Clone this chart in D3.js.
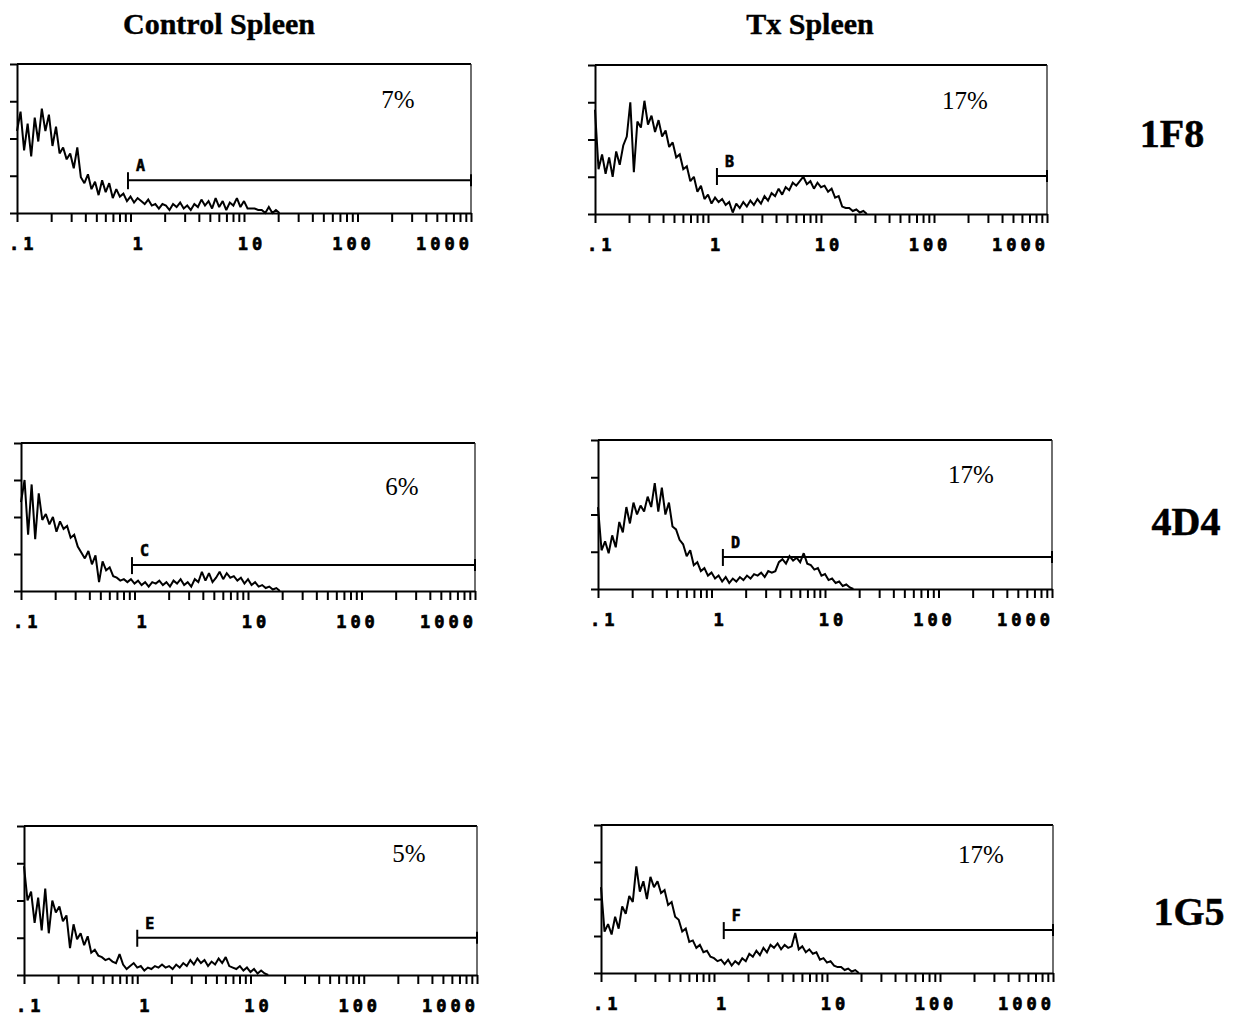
<!DOCTYPE html>
<html>
<head>
<meta charset="utf-8">
<script src="https://cdn.jsdelivr.net/npm/d3@7"></script>
<style>
  html, body { margin: 0; padding: 0; background: #fff; }
  svg { display: block; }
</style>
</head>
<body>
<svg id="chart" width="1245" height="1017"></svg>
<script>
// ---------------- DATA ----------------
const columnTitles = ["Control Spleen", "Tx Spleen"];
const rowLabels = ["1F8", "4D4", "1G5"];
const tickLabels = [".1", "1", "10", "100", "1000"];
const tickLabelValues = [0.1, 1, 10, 100, 1000];
const binsPerDecade = 32;           // histogram channels per decade, starting at 0.1
const percents = ["7%", "17%", "6%", "17%", "5%", "17%"];
const gateLetters = ["A", "B", "C", "D", "E", "F"];
const gateStart = [0.95, 1.2, 0.95, 1.26, 1.0, 1.22];
const gateLevel = [22, 25.5, 17.5, 21.5, 25, 29];

const controlF8 = [55,68,42,60,38,64,48,70,55,66,45,58,40,44,36,40,30,44,24,20,26,16,21,12,22,14,20,10,16,11,13,8,11,7,10,8,6,9,5,6,3,6,5,2,6,4,7,3,5,2,6,4,9,5,8,3,10,4,8,2,7,5,10,4,8,3,3,3,2,2,0,4,0,2,0];
const txF8 = [70,30,40,27,38,25,42,33,46,52,75,28,62,58,76,60,66,55,63,52,56,45,48,38,40,30,32,22,25,15,19,10,13,7,11,8,10,6,8,1,7,4,8,5,9,6,10,7,12,9,14,12,17,13,18,16,21,19,22,25,20,22,17,21,18,19,15,17,11,12,5,4,4,2,3,1,2,0];
const controlD4 = [60,75,38,72,35,66,48,52,45,50,40,47,42,44,36,38,30,26,22,27,18,24,6,20,14,16,10,9,7,8,6,8,5,7,4,6,3,6,5,7,4,6,3,7,5,8,4,6,3,8,6,13,7,12,6,9,13,8,12,9,10,7,9,5,8,4,6,3,4,2,3,1,2,0];
const txD4 = [55,26,32,24,36,28,45,38,55,44,58,50,56,52,62,55,71,52,68,50,58,42,40,33,30,22,26,16,18,12,14,9,11,7,9,5,8,4,7,5,8,6,9,7,10,9,11,8,12,11,12,18,20,17,22,19,21,18,24,17,16,13,14,9,10,6,7,4,5,2,3,1,0];
const controlG5 = [73,50,56,35,52,30,58,28,50,42,46,36,40,18,34,24,28,20,26,15,17,13,12,10,11,9,8,14,7,4,6,8,5,6,3,5,4,6,5,7,5,6,4,7,5,8,6,10,7,11,8,10,6,9,7,11,8,12,6,5,4,6,3,5,2,4,1,3,1,0];
const txG5 = [58,28,33,26,38,30,45,40,52,48,72,55,62,50,65,58,62,54,56,46,48,38,36,28,30,21,22,17,19,14,15,11,10,8,9,6,9,5,8,6,10,8,13,11,15,12,17,14,19,17,20,16,19,17,18,27,16,18,14,16,13,14,9,10,7,8,5,4,4,2,3,1,2,0];

const histograms = [controlF8, txF8, controlD4, txD4, controlG5, txG5];

// ---------------- LAYOUT ----------------
const panels = [
  {x0: 17,  x1: 471,  y0: 64,  y1: 213, px: 398, py: 108},
  {x0: 595, x1: 1047, y0: 65,  y1: 214, px: 965, py: 109},
  {x0: 21,  x1: 475,  y0: 443, y1: 591, px: 402, py: 495},
  {x0: 598, x1: 1052, y0: 440, y1: 589, px: 971, py: 483},
  {x0: 24,  x1: 477,  y0: 826, y1: 975, px: 409, py: 862},
  {x0: 601, x1: 1053, y0: 825, y1: 973, px: 981, py: 863}
];
const titlePos = [{x: 219, y: 34}, {x: 810, y: 34}];
const rowPos = [{x: 1172, y: 147}, {x: 1186, y: 535}, {x: 1189, y: 925}];

const svg = d3.select("#chart");
svg.append("rect").attr("width", 1245).attr("height", 1017).attr("fill", "#fff");

columnTitles.forEach((t, i) => {
  svg.append("text")
    .attr("x", titlePos[i].x).attr("y", titlePos[i].y)
    .attr("text-anchor", "middle")
    .style("font-family", "'Liberation Serif', 'Times New Roman', serif")
    .style("font-weight", "bold")
    .style("font-size", "30px")
    .attr("stroke", "#000").attr("stroke-width", 0.4)
    .text(t);
});
rowLabels.forEach((t, i) => {
  svg.append("text")
    .attr("x", rowPos[i].x).attr("y", rowPos[i].y)
    .attr("text-anchor", "middle")
    .style("font-family", "'Liberation Serif', 'Times New Roman', serif")
    .style("font-weight", "bold")
    .style("font-size", "40px")
    .attr("stroke", "#000").attr("stroke-width", 0.5)
    .text(t);
});

// minor/major log ticks 0.1 .. 1000
const logTicks = [];
[0.1, 1, 10, 100].forEach(d => { for (let k = 1; k < 10; k++) logTicks.push(d * k); });
logTicks.push(1000);

panels.forEach((p, i) => {
  const g = svg.append("g");
  const x = d3.scaleLog().domain([0.1, 1000]).range([p.x0, p.x1]);
  const y = d3.scaleLinear().domain([0, 100]).range([p.y1, p.y0]);

  // frame: top and right
  g.append("line").attr("x1", p.x0).attr("x2", p.x1).attr("y1", p.y0).attr("y2", p.y0)
    .attr("stroke", "#000").attr("stroke-width", 2);
  g.append("line").attr("x1", p.x1).attr("x2", p.x1).attr("y1", p.y0).attr("y2", p.y1)
    .attr("stroke", "#222").attr("stroke-width", 1.3);

  // histogram
  const data = histograms[i];
  const pts = data.map((v, k) => [0.1 * Math.pow(10, k / binsPerDecade), v]);
  const line = d3.line().x(d => x(d[0])).y(d => y(d[1])).curve(d3.curveLinear);
  g.append("path").datum(pts).attr("d", line)
    .attr("fill", "none").attr("stroke", "#000").attr("stroke-width", 2)
    .attr("stroke-linejoin", "miter").attr("stroke-miterlimit", 2);

  // axes
  const yAxis = d3.axisLeft(y).tickValues([0, 25, 50, 75, 100]).tickSize(7).tickSizeOuter(0).tickFormat("");
  const ya = g.append("g").attr("transform", `translate(${p.x0},0)`).call(yAxis);
  ya.selectAll("path, line").attr("stroke", "#000").attr("stroke-width", 2);

  const xAxis = d3.axisBottom(x).tickValues(logTicks).tickSize(9).tickSizeOuter(0).tickFormat("");
  const xa = g.append("g").attr("transform", `translate(0,${p.y1})`).call(xAxis);
  xa.selectAll("path, line").attr("stroke", "#000").attr("stroke-width", 2);

  // tick labels
  const offs = [-8, 9, 8, -4, 2];
  const anchors = ["start", "middle", "middle", "middle", "end"];
  tickLabels.forEach((t, k) => {
    g.append("text")
      .attr("x", x(tickLabelValues[k]) + offs[k])
      .attr("y", p.y1 + 37)
      .attr("text-anchor", anchors[k])
      .style("font-family", "'DejaVu Sans Mono', monospace")
      .style("font-weight", "bold")
      .style("font-size", "17px")
      .style("letter-spacing", "4px")
      .attr("stroke", "#000").attr("stroke-width", 0.7)
      .text(t);
  });

  // gate marker
  const gx = x(gateStart[i]), gy = y(gateLevel[i]);
  g.append("line").attr("x1", gx).attr("x2", p.x1).attr("y1", gy).attr("y2", gy)
    .attr("stroke", "#000").attr("stroke-width", 2);
  g.append("line").attr("x1", gx).attr("x2", gx).attr("y1", gy - 8).attr("y2", gy + 9)
    .attr("stroke", "#000").attr("stroke-width", 2);
  g.append("line").attr("x1", p.x1).attr("x2", p.x1).attr("y1", gy - 6).attr("y2", gy + 6)
    .attr("stroke", "#000").attr("stroke-width", 2);
  g.append("text").attr("x", gx + 8).attr("y", gy - 9)
    .style("font-family", "'DejaVu Sans Mono', monospace")
    .style("font-weight", "bold")
    .style("font-size", "15px")
    .attr("stroke", "#000").attr("stroke-width", 0.6)
    .text(gateLetters[i]);

  // percent
  g.append("text").attr("x", p.px).attr("y", p.py)
    .attr("text-anchor", "middle")
    .style("font-family", "'Liberation Serif', 'Times New Roman', serif")
    .style("font-size", "25px")
    .text(percents[i]);
});
</script>
</body>
</html>
